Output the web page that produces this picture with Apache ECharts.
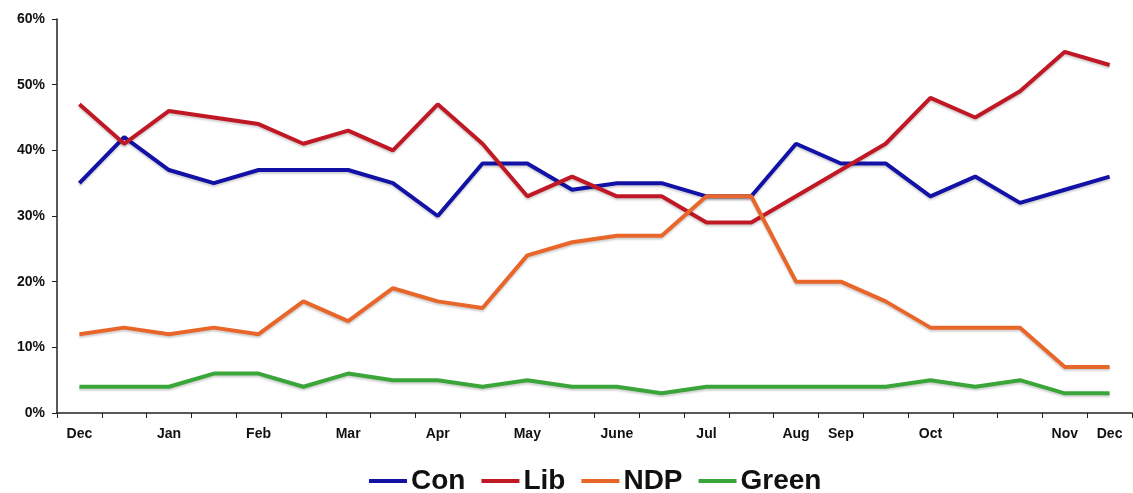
<!DOCTYPE html>
<html>
<head>
<meta charset="utf-8">
<script src="https://cdn.jsdelivr.net/npm/echarts@6/dist/echarts.min.js"></script>
<style>html,body{margin:0;padding:0;background:#fff}#c{width:1133px;height:493px}</style>
</head>
<body>
<div id="c"></div>
<script>
const categories = ['Dec','','Jan','','Feb','','Mar','','Apr','','May','','June','','Jul','','Aug','Sep','','Oct','','','Nov','Dec'];
const con   = [35,42,37,35,37,37,37,35,30,38,38,34,35,35,33,33,41,38,38,33,36,32,34,36];
const lib   = [47,41,46,45,44,41,43,40,47,41,33,36,33,33,29,29,33,37,41,48,45,49,55,53];
const ndp   = [12,13,12,13,12,17,14,19,17,16,24,26,27,27,33,33,20,20,17,13,13,13,7,7];
const green = [4,4,4,6,6,4,6,5,5,4,5,4,4,3,4,4,4,4,4,5,4,5,3,3];
const yTicks = [0,10,20,30,40,50,60];

const chart = echarts.init(document.getElementById('c'));
function s(name, data, color){
  return {name, type:'line', data, symbol:'none', smooth:false,
    lineStyle:{width:4, color, shadowColor:'rgba(0,0,0,0.18)', shadowBlur:2, shadowOffsetY:2},
    itemStyle:{color}};
}
chart.setOption({
  animation:false,
  textStyle:{fontFamily:'Liberation Sans, Arial, sans-serif'},
  grid:{left:57, right:1, top:19, bottom:80},
  legend:{top:462, left:364, itemWidth:38, itemHeight:4, itemGap:16,
    icon:'rect',
    textStyle:{fontSize:28, fontWeight:'bold', color:'#111', padding:[0,0,0,-1]},
    data:['Con','Lib','NDP','Green']},
  xAxis:{type:'category', data:categories, boundaryGap:true,
    axisLine:{lineStyle:{color:'#222', width:1.5}},
    axisTick:{show:true, length:5, alignWithLabel:false, interval:0, lineStyle:{color:'#222'}},
    axisLabel:{interval:0, fontSize:14, fontWeight:'bold', color:'#111', margin:14},
    splitLine:{show:false}},
  yAxis:{type:'value', min:yTicks[0], max:yTicks[yTicks.length-1], interval:10,
    axisLine:{show:true, lineStyle:{color:'#222', width:1.5}},
    axisTick:{show:true, length:5, lineStyle:{color:'#222'}},
    axisLabel:{formatter:'{value}%', fontSize:14, fontWeight:'bold', color:'#111', margin:12},
    splitLine:{show:false}},
  series:[
    s('Con', con, '#1212a6'),
    s('Lib', lib, '#c01824'),
    s('NDP', ndp, '#e8662a'),
    s('Green', green, '#3aa63a')
  ]
});
</script>
</body>
</html>
